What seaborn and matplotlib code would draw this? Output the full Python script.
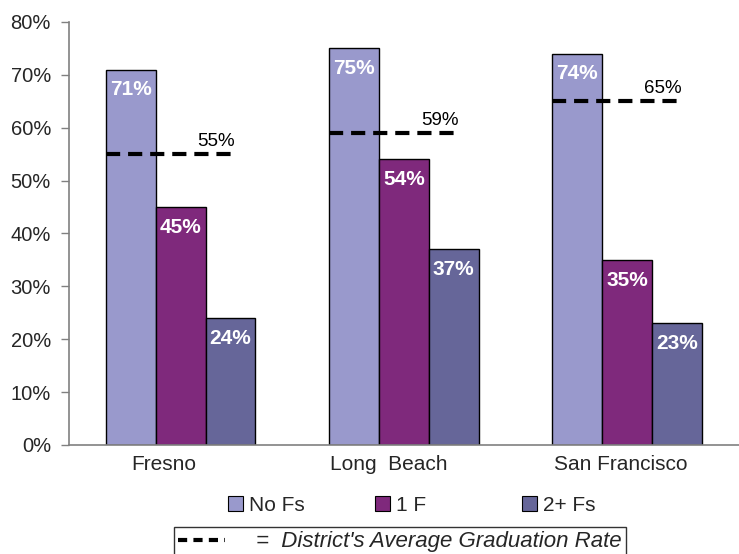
import matplotlib
matplotlib.use("Agg")
import matplotlib.pyplot as plt
from matplotlib.patches import Patch
from matplotlib.lines import Line2D
from matplotlib.transforms import ScaledTranslation
import seaborn as sns
import pandas as pd

# Graduation rates by number of F grades, per district
districts = ["Fresno", "Long  Beach", "San Francisco"]
groups = ["No Fs", "1 F", "2+ Fs"]
no_fs = [71, 75, 74]
one_f = [45, 54, 35]
two_plus_fs = [24, 37, 23]
district_avg = [55, 59, 65]

colors = ["#9999CC", "#7F297C", "#666699"]

rows = []
for i, d in enumerate(districts):
    for g, vals in zip(groups, [no_fs, one_f, two_plus_fs]):
        rows.append({"district": d, "group": g, "rate": vals[i]})
df = pd.DataFrame(rows)

sns.set_theme(style="white")
plt.rcParams["font.family"] = ["Liberation Sans", "DejaVu Sans"]

fig = plt.figure(figsize=(7.39, 5.54), dpi=100)
ax = fig.add_axes([0.0934, 0.1968, 0.906, 0.7635])

bar_w = 0.67
sns.barplot(data=df, x="district", y="rate", hue="group", order=districts,
            hue_order=groups, palette=colors, width=bar_w, edgecolor="black",
            linewidth=1, saturation=1, ax=ax, legend=False)

# value labels inside the top of each bar
for container in ax.containers:
    for bar in container:
        h = bar.get_height()
        ax.text(bar.get_x() + bar.get_width() / 2, h - 3.8, f"{h:.0f}%",
                ha="center", va="center", color="white", fontsize=15,
                fontweight="bold")

# district average graduation rate
for i, avg in enumerate(district_avg):
    ax.hlines(avg, i - bar_w / 2, i + 0.255, colors="black", linewidth=3.0,
              linestyles=(0, (3.4, 1.9)), zorder=5)
    ax.text(i + 0.16, avg + 0.8, f"{avg}%", ha="center", va="bottom",
            fontsize=13.5, color="black")

ax.set_xlim(-0.5, 2.5)
ax.set_ylim(0, 80)
ax.set_yticks(range(0, 81, 10))
ax.set_yticklabels([f"{v}%" for v in range(0, 81, 10)], fontsize=14.5)
ax.set_xticks(range(len(districts)))
ax.set_xticklabels(districts, fontsize=15)
ax.set_xticks([0.5, 1.5], minor=True)
ax.tick_params(axis="x", which="major", length=0, pad=7)
ax.tick_params(axis="x", which="minor", length=7, direction="out",
               color="#808080", width=1)
ax.tick_params(axis="y", length=6, direction="out", color="#808080", width=1,
               left=True, pad=7)
# nudge category labels slightly to the left
for lbl, dx in zip(ax.get_xticklabels(), [-17, -15, -6]):
    lbl.set_transform(lbl.get_transform()
                      + ScaledTranslation(dx / 100, 0, fig.dpi_scale_trans))
ax.set_xlabel("")
ax.set_ylabel("")
for s in ["top", "right"]:
    ax.spines[s].set_visible(False)
for s in ["left", "bottom"]:
    ax.spines[s].set_color("#808080")
    ax.spines[s].set_linewidth(1.2)

# series legend: evenly spaced entries
for c, g, xpos in zip(colors, groups, [0.3085, 0.5075, 0.7065]):
    fig.legend([Patch(facecolor=c, edgecolor="black", linewidth=0.8)], [g],
               loc="center left", bbox_to_anchor=(xpos, 0.088),
               frameon=False, fontsize=15, handlelength=0.7,
               handleheight=0.7, handletextpad=0.3, borderpad=0,
               borderaxespad=0)

dash_handle = Line2D([], [], color="black", linewidth=3,
                     linestyle=(0, (2.2, 1.5)))
leg2 = fig.legend([dash_handle], ["=  District's Average Graduation Rate"],
                  loc="upper center", bbox_to_anchor=(0.541, 0.049),
                  frameon=True, fancybox=False, handlelength=2.1,
                  handletextpad=1.4, borderpad=0.2, borderaxespad=0,
                  prop={"style": "italic", "size": 16})
leg2.get_frame().set_edgecolor("black")
leg2.get_frame().set_linewidth(1)

fig.savefig("out.png", dpi=100)
